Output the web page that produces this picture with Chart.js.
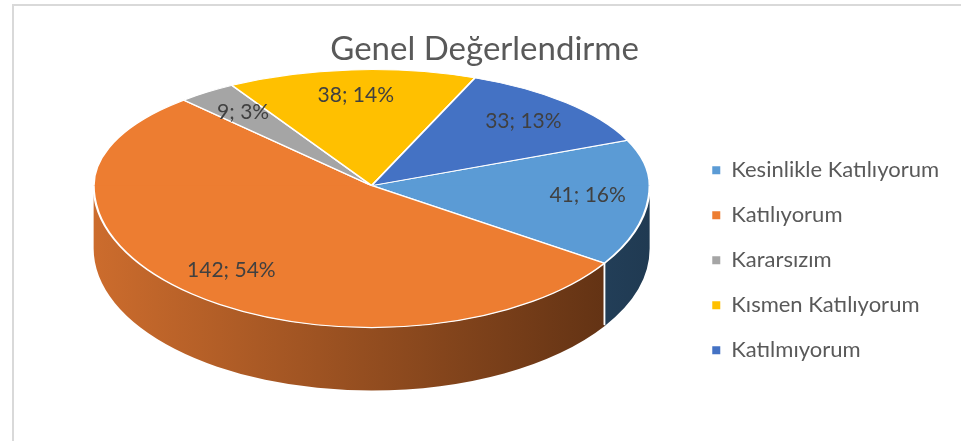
<!DOCTYPE html>
<html lang="tr">
<head>
<meta charset="utf-8">
<title>Genel Değerlendirme</title>
<script src="https://cdn.jsdelivr.net/npm/chart.js@4.4.1/dist/chart.umd.min.js"></script>
<style>
    html, body { margin: 0; padding: 0; background: #fff; }
    .wrap { position: relative; width: 961px; height: 441px; overflow: hidden; }
    .frame { position: absolute; left: 12px; top: 4px; right: -4px; bottom: -4px;
             border-left: 2px solid #D9D9D9; border-top: 2px solid #D9D9D9; }
    #pieChart { position: absolute; left: 0; top: 0; }
</style>
</head>
<body>
<div class="wrap">
    <div class="frame"></div>
    <canvas id="pieChart" width="961" height="441"></canvas>
</div>
<script>
// Chart data
const categories = ['Kesinlikle Katılıyorum', 'Katılıyorum', 'Kararsızım', 'Kısmen Katılıyorum', 'Katılmıyorum'];
const counts = [41, 142, 9, 38, 33];
const percents = [16, 54, 3, 14, 13];

// Styles
const sliceColors = ['#5B9BD5', '#ED7D31', '#A5A5A5', '#FFC000', '#4472C4'];
const sideLeft = ['#3B6B96', '#CC6C2D', '#7A7A7A', '#B88A00', '#34589A'];
const sideRight = ['#203A52', '#5A2E12', '#404040', '#5E4700', '#1E3563'];

// 3D look: the top face is drawn as two half ellipses (back flatter than front)
const FACE_RX = 278;
const FACE_RY_BACK = 116;
const FACE_RY_FRONT = 142;
const SIDE_DEPTH = 63;

function faceGeom(chart) {
    const area = chart.chartArea;
    const arc = chart.getDatasetMeta(0).data[0];
    return {
        arc,
        cx: arc.x,
        cy: area.top + FACE_RY_BACK,
        R: arc.outerRadius
    };
}

function applyFace(ctx, g, ry) {
    ctx.translate(g.cx, g.cy);
    ctx.scale(FACE_RX / g.R, ry / g.R);
    ctx.translate(-g.arc.x, -g.arc.y);
}

function drawSides(chart, g) {
    const ctx = chart.ctx;
    const arcs = chart.getDatasetMeta(0).data;
    arcs.forEach((a, i) => {
        const a0 = Math.max(a.startAngle, 0);
        const a1 = Math.min(a.endAngle, Math.PI);
        if (a1 <= a0) return;
        const grad = ctx.createLinearGradient(g.cx - FACE_RX, 0, g.cx + FACE_RX, 0);
        grad.addColorStop(0, sideLeft[i]);
        grad.addColorStop(1, sideRight[i]);
        ctx.beginPath();
        ctx.ellipse(g.cx, g.cy, FACE_RX, FACE_RY_FRONT, 0, a0, a1);
        ctx.ellipse(g.cx, g.cy + SIDE_DEPTH, FACE_RX, FACE_RY_FRONT, 0, a1, a0, true);
        ctx.closePath();
        ctx.fillStyle = grad;
        ctx.fill();
    });
    // white edges where slices meet on the visible side
    ctx.strokeStyle = '#fff';
    ctx.lineWidth = 1.5;
    arcs.forEach(a => {
        [a.startAngle, a.endAngle].forEach(t => {
            if (t > 0.02 && t < Math.PI - 0.02) {
                const x = g.cx + FACE_RX * Math.cos(t);
                const y = g.cy + FACE_RY_FRONT * Math.sin(t);
                ctx.beginPath();
                ctx.moveTo(x, y);
                ctx.lineTo(x, y + SIDE_DEPTH * 0.98);
                ctx.stroke();
            }
        });
    });
}

const pie3d = {
    id: 'pie3d',
    beforeDatasetsDraw(chart) {
        const g = faceGeom(chart);
        const ctx = chart.ctx;
        drawSides(chart, g);
        // back half of the top face, drawn by Chart.js itself
        ctx.save();
        ctx.beginPath();
        ctx.rect(0, 0, chart.width, g.cy + 1);
        ctx.clip();
        applyFace(ctx, g, FACE_RY_BACK);
    },
    afterDatasetsDraw(chart) {
        const g = faceGeom(chart);
        const ctx = chart.ctx;
        ctx.restore();
        // front half of the top face
        const arcs = chart.getDatasetMeta(0).data;
        ctx.save();
        ctx.beginPath();
        ctx.rect(0, g.cy, chart.width, chart.height - g.cy);
        ctx.clip();
        applyFace(ctx, g, FACE_RY_FRONT);
        arcs.forEach(a => a.draw(ctx));
        ctx.restore();

        // data labels "value; percent"
        ctx.save();
        ctx.font = '21px Lato';
        ctx.fillStyle = '#404040';
        ctx.textAlign = 'center';
        ctx.textBaseline = 'middle';
        arcs.forEach((a, i) => {
            const mid = (a.startAngle + a.endAngle) / 2;
            const s = Math.sin(mid);
            const ry = s > 0 ? FACE_RY_FRONT : FACE_RY_BACK;
            const f = 0.78;
            const x = g.cx + FACE_RX * f * Math.cos(mid);
            const y = g.cy + ry * f * s;
            ctx.fillText(counts[i] + '; ' + percents[i] + '%', x, y);
        });
        ctx.restore();
    }
};

const legendLabels = Chart.overrides.doughnut.plugins.legend.labels.generateLabels;

new Chart(document.getElementById('pieChart'), {
    type: 'pie',
    data: {
        labels: categories,
        datasets: [{
            data: counts,
            backgroundColor: sliceColors,
            borderColor: '#ffffff',
            borderWidth: 1.5,
            clip: false
        }]
    },
    options: {
        responsive: false,
        animation: false,
        rotation: 67,
        layout: {
            padding: { left: 54, right: 12, top: 0, bottom: 0 }
        },
        plugins: {
            title: {
                display: true,
                // trailing no-break spaces nudge the centred title a little to the left
                text: 'Genel Değerlendirme\u00A0\u00A0\u00A0\u00A0',
                color: '#595959',
                font: { family: 'Lato', size: 33, weight: 'normal' },
                padding: { top: 30, bottom: 0 }
            },
            legend: {
                position: 'right',
                fullSize: false,
                align: 'center',
                title: {
                    display: true,
                    text: ' ',
                    font: { size: 5 },
                    padding: { top: 4, bottom: 0 }
                },
                labels: {
                    boxWidth: 8,
                    boxHeight: 8,
                    padding: 23,
                    color: '#595959',
                    font: { family: 'Lato', size: 22 },
                    generateLabels(chart) {
                        const items = legendLabels(chart);
                        items.forEach(it => { it.lineWidth = 0; });
                        return items;
                    }
                }
            },
            tooltip: { enabled: false }
        }
    },
    plugins: [pie3d]
});
</script>
</body>
</html>
